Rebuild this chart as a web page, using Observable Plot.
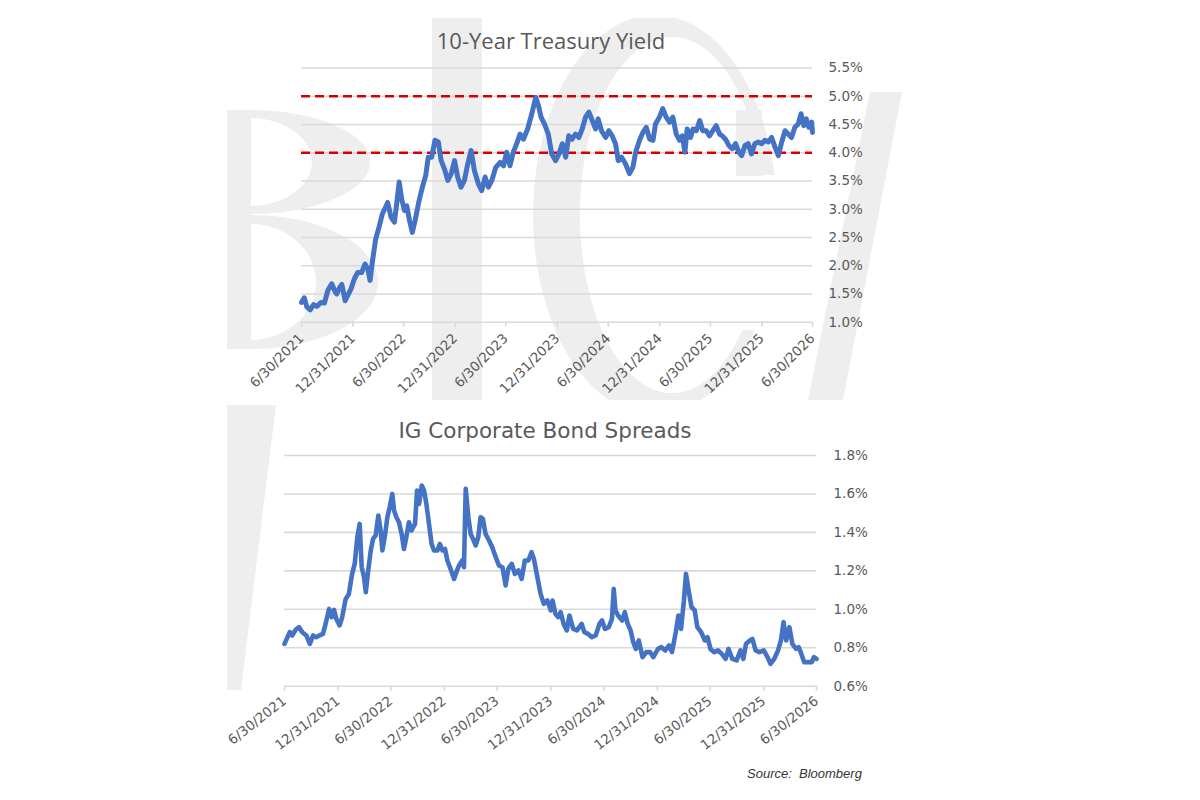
<!DOCTYPE html>
<html>
<head>
<meta charset="utf-8">
<script src="https://cdn.jsdelivr.net/npm/d3@7"></script>
<script src="https://cdn.jsdelivr.net/npm/@observablehq/plot@0.6"></script>
<style>
html,body{margin:0;padding:0;background:#fff;}
#page{position:relative;width:1200px;height:800px;overflow:hidden;background:#fff;}
#wm{position:absolute;left:0;top:0;}
.title{position:absolute;color:#595959;white-space:nowrap;transform:translate(-50%,-50%);line-height:1;}
#t1{left:551px;top:40px;font-family:"Open Sans",sans-serif;font-size:22px;}
#t2{left:545px;top:431px;font-family:"DejaVu Sans",sans-serif;font-size:21.5px;}
#src{position:absolute;left:747px;top:766px;font-family:"Liberation Sans",Arial,sans-serif;font-style:italic;font-size:13px;color:#333;white-space:nowrap;}
.chart{position:absolute;left:0;}
#c1{top:0;} #c2{top:400px;}
</style>
</head>
<body>
<div id="page">
  <svg id="wm" width="1200" height="800" aria-hidden="true">
    <defs>
      <clipPath id="wmTop"><rect x="227" y="18" width="680" height="382"/></clipPath>
      <clipPath id="bClip"><rect x="250" y="100" width="160" height="260"/></clipPath>
      <clipPath id="cClip"><path d="M400,0H900V175H700V330H900V400H400Z"/></clipPath>
    </defs>
    <g fill="#eeeeee" clip-path="url(#wmTop)">
      <rect x="227" y="110" width="24" height="239"/>
      <g clip-path="url(#bClip)">
        <path fill-rule="evenodd" d="M250,110a120,52 0 1,0 0.1,0ZM250,118a62,44 0 1,1 -0.1,0Z"/>
        <path fill-rule="evenodd" d="M250,215a128,67 0 1,0 0.1,0ZM250,224a66,58 0 1,1 -0.1,0Z"/>
      </g>
      <rect x="432" y="18" width="50" height="382"/>
      <g clip-path="url(#cClip)">
        <path fill-rule="evenodd" d="M655,15a122,200 0 1,0 0.1,0ZM672,37a92,178 0 1,1 -0.1,0Z"/>
      </g>
      <rect x="736" y="110" width="26" height="66"/>
      <path d="M870,92L902,92L843,400L808,400Z"/>
    </g>
    <path fill="#eeeeee" d="M227,405L276,405L241,690L227,690Z"/>
  </svg>
  <div class="chart" id="c1"></div>
  <div class="chart" id="c2"></div>
  <div class="title" id="t1">10-Year Treasury Yield</div>
  <div class="title" id="t2">IG Corporate Bond Spreads</div>
  <div id="src">Source:&nbsp; Bloomberg</div>
</div>
<script>
// ---------- Data ----------
const xTickLabels = ["6/30/2021","12/31/2021","6/30/2022","12/31/2022","6/30/2023","12/31/2023","6/30/2024","12/31/2024","6/30/2025","12/31/2025","6/30/2026"];

const yTicksTreasury = [1.0,1.5,2.0,2.5,3.0,3.5,4.0,4.5,5.0,5.5];
const treasuryRefLines = [4.0, 5.0];
const yTicksSpreads = [0.6,0.8,1.0,1.2,1.4,1.6,1.8];

const treasuryDates = [
"2021-06-30","2021-07-10","2021-07-19","2021-07-31","2021-08-12","2021-08-24","2021-09-08","2021-09-20","2021-10-02","2021-10-16",
"2021-10-26","2021-11-03","2021-11-11","2021-11-21","2021-12-03","2021-12-15","2021-12-24","2022-01-05","2022-01-17","2022-01-31",
"2022-02-12","2022-02-22","2022-03-02","2022-03-10","2022-03-22","2022-04-03","2022-04-15","2022-04-27","2022-05-04","2022-05-16",
"2022-05-28","2022-06-05","2022-06-14","2022-06-23","2022-07-03","2022-07-11","2022-07-21","2022-07-31","2022-08-10","2022-08-24",
"2022-09-05","2022-09-17","2022-09-26","2022-10-08","2022-10-20","2022-11-01","2022-11-11","2022-11-23","2022-12-05","2022-12-17",
"2022-12-29","2023-01-09","2023-01-21","2023-02-02","2023-02-14","2023-02-26","2023-03-10","2023-03-24","2023-04-05","2023-04-17",
"2023-04-29","2023-05-11","2023-05-25","2023-06-10","2023-06-22","2023-07-03","2023-07-15","2023-07-27","2023-08-08","2023-08-20",
"2023-09-01","2023-09-16","2023-10-01","2023-10-15","2023-10-25","2023-11-03","2023-11-15","2023-11-29","2023-12-11",
"2023-12-25","2024-01-06","2024-01-18","2024-01-30","2024-02-10","2024-02-22","2024-03-05","2024-03-17","2024-03-29","2024-04-10",
"2024-04-22","2024-05-04","2024-05-16","2024-05-25","2024-06-06","2024-06-21","2024-07-02","2024-07-14","2024-07-26","2024-08-05",
"2024-08-17","2024-08-31","2024-09-14","2024-09-26","2024-10-06","2024-10-20","2024-11-01","2024-11-13","2024-11-25","2024-12-07",
"2024-12-16","2024-12-30","2025-01-11","2025-01-23","2025-02-04","2025-02-16","2025-02-28","2025-03-12","2025-03-22","2025-03-31",
"2025-04-08","2025-04-20","2025-04-29","2025-05-11","2025-05-23","2025-06-03","2025-06-15","2025-06-27","2025-07-09","2025-07-21",
"2025-08-02","2025-08-11","2025-08-23","2025-09-04","2025-09-16","2025-09-28","2025-10-10","2025-10-20","2025-11-01","2025-11-12",
"2025-11-24","2025-12-06","2025-12-18","2025-12-30","2026-01-11","2026-01-23","2026-02-04","2026-02-16","2026-02-28","2026-03-12",
"2026-03-24","2026-04-04","2026-04-16","2026-04-28","2026-05-10","2026-05-20","2026-05-30","2026-06-08","2026-06-17","2026-06-27","2026-06-30"];

const treasuryYield = [
1.35,1.43,1.27,1.22,1.31,1.28,1.35,1.34,1.56,1.68,
1.56,1.50,1.59,1.67,1.38,1.50,1.59,1.77,1.88,1.88,
2.03,1.94,1.74,2.06,2.47,2.68,2.92,3.04,3.12,2.86,
2.77,3.09,3.48,3.18,2.98,3.06,2.80,2.59,2.80,3.15,
3.39,3.60,3.92,3.92,4.22,4.19,3.86,3.71,3.51,3.63,
3.86,3.57,3.39,3.51,3.80,4.04,3.68,3.45,3.33,3.57,
3.39,3.51,3.74,3.83,3.77,4.01,3.77,4.01,4.16,4.33,
4.24,4.42,4.69,4.98,4.83,4.63,4.51,4.33,3.98,
3.86,3.98,4.16,3.92,4.30,4.24,4.33,4.27,4.42,4.63,
4.72,4.57,4.42,4.60,4.39,4.27,4.39,4.30,4.16,3.86,
3.92,3.80,3.63,3.74,4.01,4.22,4.36,4.45,4.24,4.22,
4.51,4.63,4.78,4.63,4.54,4.63,4.33,4.22,4.30,4.01,
4.42,4.27,4.42,4.39,4.57,4.39,4.39,4.30,4.39,4.48,
4.33,4.30,4.24,4.13,4.07,4.16,4.01,3.95,4.13,4.16,
3.98,4.16,4.19,4.16,4.22,4.19,4.27,4.10,3.95,4.19,
4.39,4.33,4.27,4.45,4.51,4.69,4.48,4.60,4.45,4.54,4.36];

const spreadDates = [
"2021-06-30","2021-07-18","2021-07-27","2021-08-07","2021-08-19","2021-08-30","2021-09-13","2021-09-25","2021-10-06","2021-10-17",
"2021-10-28","2021-11-09","2021-11-18","2021-11-30","2021-12-09","2021-12-17","2021-12-25","2022-01-05","2022-01-14","2022-01-26",
"2022-02-06","2022-02-17","2022-02-26","2022-03-07","2022-03-15","2022-03-22","2022-03-30","2022-04-05","2022-04-14","2022-04-22",
"2022-04-30","2022-05-09","2022-05-18","2022-05-26","2022-06-01","2022-06-10","2022-06-18","2022-06-26","2022-07-05","2022-07-11",
"2022-07-19","2022-07-28","2022-08-06","2022-08-14","2022-08-22","2022-08-31","2022-09-09","2022-09-21","2022-09-28","2022-10-05",
"2022-10-14","2022-10-22","2022-10-30","2022-11-08","2022-11-17","2022-11-25","2022-12-07","2022-12-15","2022-12-24","2023-01-02",
"2023-01-10","2023-01-21","2023-02-02","2023-02-10","2023-02-19","2023-03-02","2023-03-08","2023-03-14","2023-03-23","2023-03-31",
"2023-04-08","2023-04-17","2023-04-26","2023-05-04","2023-05-12","2023-05-21","2023-06-02","2023-06-13","2023-06-25","2023-07-06",
"2023-07-18","2023-07-29","2023-08-07","2023-08-19","2023-08-30","2023-09-11","2023-09-22","2023-10-03","2023-10-15","2023-10-26",
"2023-11-03","2023-11-15","2023-11-26","2023-12-07","2023-12-19","2023-12-31",
"2024-01-06","2024-01-16","2024-01-25","2024-02-03","2024-02-13","2024-02-24","2024-03-04","2024-03-17","2024-03-30","2024-04-15",
"2024-04-24","2024-05-07","2024-05-20","2024-06-02","2024-06-15","2024-06-24","2024-07-04","2024-07-17","2024-07-28","2024-08-03",
"2024-08-09","2024-08-18","2024-09-01","2024-09-10","2024-09-20","2024-09-30","2024-10-09","2024-10-18","2024-10-28","2024-11-10",
"2024-11-23","2024-12-06","2024-12-17","2025-01-02","2025-01-14","2025-01-27","2025-02-09","2025-02-19","2025-03-04","2025-03-13",
"2025-03-22","2025-04-01","2025-04-08","2025-04-17","2025-04-27","2025-05-08","2025-05-17","2025-05-30","2025-06-12","2025-06-21",
"2025-07-01","2025-07-14","2025-07-27","2025-08-09","2025-08-22","2025-09-01","2025-09-14","2025-09-29","2025-10-12","2025-10-22",
"2025-10-31","2025-11-13","2025-11-22","2025-12-03","2025-12-16","2025-12-31","2026-01-13","2026-01-23","2026-02-05","2026-02-18",
"2026-02-28","2026-03-09","2026-03-18","2026-03-29","2026-04-08","2026-04-21","2026-04-30","2026-05-09","2026-05-19","2026-06-04",
"2026-06-14","2026-06-21","2026-06-30"];

const igSpread = [
0.820,0.881,0.864,0.893,0.907,0.881,0.864,0.820,0.864,0.855,
0.864,0.872,0.924,1.002,0.959,0.997,0.950,0.916,0.959,1.054,
1.080,1.184,1.236,1.375,1.444,1.219,1.167,1.089,1.210,1.306,
1.366,1.384,1.488,1.410,1.306,1.384,1.479,1.531,1.600,1.514,
1.479,1.453,1.392,1.314,1.375,1.453,1.410,1.444,1.618,1.548,
1.644,1.618,1.548,1.444,1.340,1.306,1.306,1.340,1.306,1.314,
1.254,1.210,1.158,1.193,1.228,1.254,1.219,1.627,1.479,1.392,
1.366,1.332,1.375,1.479,1.470,1.392,1.358,1.323,1.271,1.228,
1.219,1.124,1.210,1.236,1.184,1.202,1.158,1.254,1.254,1.297,
1.262,1.167,1.080,1.028,1.046,0.994,
1.046,0.976,0.959,0.985,0.924,0.89,0.968,0.898,0.89,0.924,
0.881,0.872,0.855,0.864,0.924,0.942,0.898,0.907,0.95,1.106,
0.994,0.968,0.942,0.985,0.924,0.89,0.829,0.794,0.838,0.751,
0.777,0.777,0.751,0.794,0.803,0.786,0.812,0.777,0.881,0.968,
0.898,1.046,1.184,1.098,1.011,0.994,0.907,0.881,0.838,0.855,
0.794,0.777,0.786,0.768,0.742,0.794,0.742,0.734,0.786,0.742,
0.82,0.838,0.846,0.786,0.777,0.786,0.751,0.716,0.742,0.786,
0.838,0.933,0.838,0.907,0.82,0.794,0.803,0.768,0.725,0.725,
0.725,0.751,0.742];

// ---------- Build ----------
const parseISO = d3.utcParse("%Y-%m-%d");
const parseTick = d3.utcParse("%m/%d/%Y");
const xTicks = xTickLabels.map(parseTick);
const fmtTick = d3.utcFormat("%-m/%d/%Y");
const xDomain = [xTicks[0], xTicks[xTicks.length - 1]];

const treasury = d3.zip(treasuryDates, treasuryYield).map(([d, v]) => ({date: parseISO(d), value: v}));
const spreads = d3.zip(spreadDates, igSpread).map(([d, v]) => ({date: parseISO(d), value: v}));

const BLUE = "#4472c4";
const GRID = "#d9d9d9";
const TEXT = "#595959";
const baseStyle = {fontFamily: "'DejaVu Sans', sans-serif", fontSize: "13.5px", color: TEXT, background: "transparent", overflow: "visible"};

const chart1 = Plot.plot({
  width: 1200, height: 400,
  marginLeft: 301, marginRight: 388, marginTop: 67.5, marginBottom: 78.3,
  style: baseStyle,
  x: {type: "utc", domain: xDomain},
  y: {domain: [1, 5.5]},
  marks: [
    Plot.ruleY(yTicksTreasury, {stroke: GRID, strokeWidth: 1.6}),
    Plot.axisY(yTicksTreasury, {anchor: "right", tickSize: 0, tickPadding: 16, tickFormat: d => d.toFixed(1) + "%", fill: TEXT, label: null}),
    Plot.axisX(xTicks, {anchor: "bottom", tickSize: 5, tickPadding: 9, tickRotate: -45, tickFormat: fmtTick, stroke: GRID, strokeWidth: 1.6, fill: TEXT, label: null}),
    Plot.ruleY(treasuryRefLines, {stroke: "#d40000", strokeWidth: 2.5, strokeDasharray: "9,5"}),
    Plot.lineY(treasury, {x: "date", y: "value", stroke: BLUE, strokeWidth: 5, strokeLinejoin: "round", strokeLinecap: "round"})
  ]
});
document.getElementById("c1").appendChild(chart1);

const chart2 = Plot.plot({
  width: 1200, height: 360,
  marginLeft: 284, marginRight: 384, marginTop: 55, marginBottom: 74.3,
  style: baseStyle,
  x: {type: "utc", domain: xDomain},
  y: {domain: [0.6, 1.8]},
  marks: [
    Plot.ruleY(yTicksSpreads, {stroke: GRID, strokeWidth: 1.6}),
    Plot.axisY(yTicksSpreads, {anchor: "right", tickSize: 0, tickPadding: 17, tickFormat: d => d.toFixed(1) + "%", fill: TEXT, label: null}),
    Plot.axisX(xTicks, {anchor: "bottom", tickSize: 5, tickPadding: 8, tickRotate: -38, tickFormat: fmtTick, stroke: GRID, strokeWidth: 1.6, fill: TEXT, label: null}),
    Plot.lineY(spreads, {x: "date", y: "value", stroke: BLUE, strokeWidth: 4.6, strokeLinejoin: "round", strokeLinecap: "round"})
  ]
});
document.getElementById("c2").appendChild(chart2);
</script>
</body>
</html>
